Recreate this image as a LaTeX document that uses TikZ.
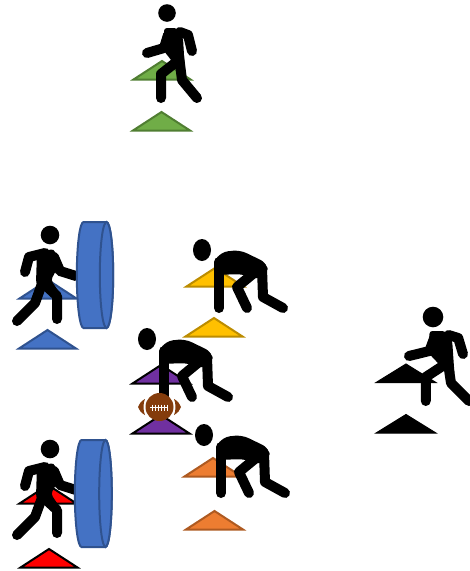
\documentclass[tikz,border=0pt]{standalone}
\usepackage{xcolor}
\definecolor{conegreen}{HTML}{70AD47}
\definecolor{conegreenline}{HTML}{507E32}
\definecolor{coneblue}{HTML}{4472C4}
\definecolor{coneblueline}{HTML}{2F528F}
\definecolor{coneyellow}{HTML}{FFC000}
\definecolor{coneyellowline}{HTML}{BC8C00}
\definecolor{coneorange}{HTML}{ED7D31}
\definecolor{coneorangeline}{HTML}{AE5A21}
\definecolor{conepurple}{HTML}{7030A0}
\definecolor{ballbrown}{HTML}{843C0C}
\tikzset{
  limb/.style={draw=black,line width=10pt,line cap=round,line join=round},
  green cone/.style={fill=conegreen,draw=conegreenline,line width=2pt},
  blue cone/.style={fill=coneblue,draw=coneblueline,line width=2pt},
  yellow cone/.style={fill=coneyellow,draw=coneyellowline,line width=2pt},
  orange cone/.style={fill=coneorange,draw=coneorangeline,line width=2pt},
  purple cone/.style={fill=conepurple,draw=black,line width=2pt},
  red cone/.style={fill=red,draw=black,line width=2pt},
  black cone/.style={fill=black,draw=black,line width=1pt},
  markcone/.pic={\path[pic actions] (0,0)--(28.5,18.5)--(-28.5,18.5)--cycle;},
  walker/.pic={
    \fill[rounded corners=3pt] (-3,15)--(10,15)--(16,25)--(18,60)--(8,52)--(-3,38)--cycle;
    \draw[limb] (-20,40)--(-3,35)--(1,22);
    \draw[limb] (13,19)--(21,22)--(25,38);
    \draw[limb] (8,50)--(-6,61)--(-6,85);
    \draw[limb] (11,35)--(15,67)--(30,85);
  },
  runner/.pic={
    \fill[rounded corners=3pt] (-13,17)--(4,14)--(9,30)--(1,45)--(11,60)--(-10,55)--(-14,48)--cycle;
    \draw[limb] (-25,37)--(-21,22)--(-5,18);
    \draw[limb] (4,22)--(10,36)--(26,41);
    \draw[limb] (-7,46)--(-15,68)--(-33,86);
    \draw[limb] (-7,48)--(7,61)--(7,84);
  },
  crouch/.pic={
    \fill (0,0) ellipse[x radius=9,y radius=11];
    \fill[rounded corners=7pt] (12,12)--(19,2)--(38,0)--(65,13)--(66,24)--(55,30)--(41,24)--(12,25)--cycle;
    \draw[limb] (17,12)--(17,58);
    \draw[limb] (60,18)--(61,47)--(81,58);
    \draw[limb] (52,23)--(35,37)--(45,58);
  },
  dummy/.style={fill=coneblue,draw=coneblueline,line width=2pt},
}
\begin{document}
\begin{tikzpicture}[x=1pt,y=-1pt]
\useasboundingbox (0,0) rectangle (470,571);
% cones
\pic[green cone] at (162,61) {markcone};
\pic[green cone] at (161.5,112) {markcone};
\pic[blue cone] at (48,280) {markcone};
\pic[blue cone] at (47.5,330) {markcone};
\pic[red cone] at (48,485) {markcone};
\pic[red cone] at (49,549) {markcone};
\pic[yellow cone] at (215,268) {markcone};
\pic[yellow cone] at (214,318) {markcone};
\pic[orange cone] at (213,458) {markcone};
\pic[orange cone] at (214.5,511) {markcone};
\pic[purple cone] at (161,365) {markcone};
\pic[purple cone] at (161,415) {markcone};
\pic[black cone,xscale=1.05] at (406,364) {markcone};
\pic[black cone,xscale=1.05] at (406,414.5) {markcone};
% players
\fill (167,13) circle[radius=8.8];
\pic at (167,13) {walker};
\fill (433,317) circle[radius=10.3];
\pic[xscale=1.2] at (433,316) {walker};
\fill (50,235) circle[radius=9.3];
\pic at (50,235) {runner};
\fill (50,449) circle[radius=9.3];
\pic at (50,449) {runner};
\pic at (202,250) {crouch};
\pic at (147,339) {crouch};
\pic at (204,435) {crouch};
% tackle dummies
\path[dummy] (83.5,222) arc[start angle=270,end angle=90,x radius=6.7,y radius=53]--(106.5,328)
  arc[start angle=90,end angle=-90,x radius=6.7,y radius=53]--cycle;
\draw[dummy] (106.5,275) ellipse[x radius=6.7,y radius=53];
\path[dummy] (81.5,440) arc[start angle=270,end angle=90,x radius=6.7,y radius=53.5]--(105.5,547)
  arc[start angle=90,end angle=-90,x radius=6.3,y radius=53.5]--cycle;
\draw[dummy] (105.5,493.5) ellipse[x radius=6.3,y radius=53.5];
% ball
\fill[ballbrown] (159.5,407) ellipse[x radius=14,y radius=14];
\fill[ballbrown] (138,407) .. controls (139,404) and (141,401) .. (145,399)
  .. controls (143,403) and (143,411) .. (145,415) .. controls (141,413) and (139,410) .. cycle;
\fill[ballbrown] (181,407) .. controls (180,404) and (178,401) .. (174,399)
  .. controls (176,403) and (176,411) .. (174,415) .. controls (178,413) and (180,410) .. cycle;
\draw[white,line width=1pt] (150,407.5)--(168,407.5);
\foreach \lx in {152,155,158,161,164,167}
  \draw[white,line width=.8pt] (\lx,404.5)--(\lx,410.5);
\end{tikzpicture}
\end{document}
